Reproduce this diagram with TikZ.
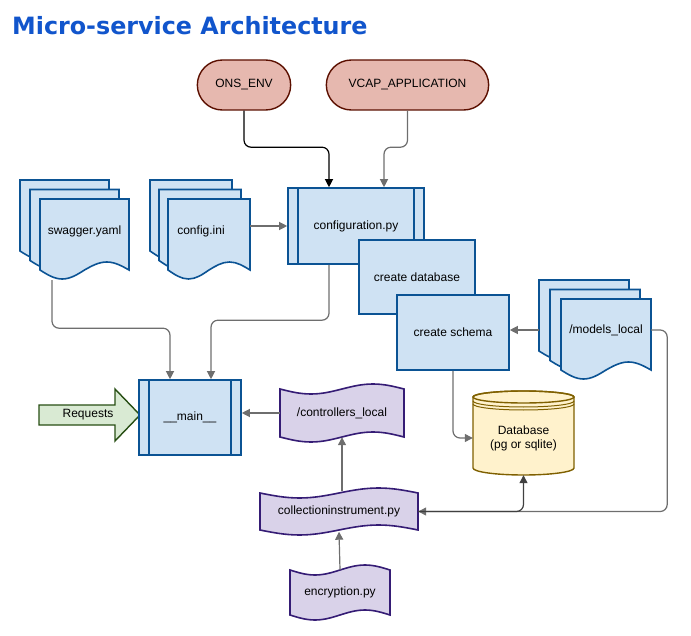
\documentclass[tikz,border=0pt]{standalone}
\usepackage{fontspec}
\setmainfont{Liberation Sans}
\newfontfamily\titlefont{DejaVu Sans}
\usetikzlibrary{arrows.meta,shapes.misc}

\definecolor{bluefill}{HTML}{CFE2F3}
\definecolor{bluedraw}{HTML}{0B5394}
\definecolor{pinkfill}{HTML}{E6B8AF}
\definecolor{pinkdraw}{HTML}{5B0F00}
\definecolor{lilacfill}{HTML}{D9D2E9}
\definecolor{lilacdraw}{HTML}{351C75}
\definecolor{greenfill}{HTML}{D9EAD3}
\definecolor{greendraw}{HTML}{274E13}
\definecolor{dbfill}{HTML}{FFF2CC}
\definecolor{dbdraw}{HTML}{7F6000}
\definecolor{titleblue}{HTML}{1155CC}
\definecolor{linkgray}{HTML}{6E6E6E}

% front sheet: x1, y1, x2, wave line, shift x, shift y
\newcommand{\multidoc}[6]{%
  \foreach \k in {2,1,0} {
    \pgfmathsetmacro{\xa}{#1-\k*#5}
    \pgfmathsetmacro{\xb}{#3-\k*#5}
    \pgfmathsetmacro{\ya}{#2-\k*#6}
    \pgfmathsetmacro{\yb}{#4-\k*#6}
    \pgfmathsetmacro{\xq}{\xa+(\xb-\xa)/4}
    \pgfmathsetmacro{\xm}{(\xa+\xb)/2}
    \pgfmathsetmacro{\xr}{\xb-(\xb-\xa)/4}
    \filldraw[sheet] (\xa,\yb) -- (\xa,\ya) -- (\xb,\ya) -- (\xb,\yb)
      sin (\xr,{\yb-8}) cos (\xm,\yb) sin (\xq,{\yb+9}) cos (\xa,\yb) -- cycle;
  }}
% x1, top, x2, bottom, wave height
\newcommand{\tapeshape}[5]{%
  \filldraw[tape] (#1,#2) sin ({#1+(#3-#1)/4},{#2+#5}) cos ({(#1+#3)/2},#2)
    sin ({#3-(#3-#1)/4},{#2-#5}) cos (#3,#2) -- (#3,#4)
    sin ({#3-(#3-#1)/4},{#4-#5}) cos ({(#1+#3)/2},#4)
    sin ({#1+(#3-#1)/4},{#4+#5}) cos (#1,#4) -- cycle;}

\begin{document}
\begin{tikzpicture}[x=1pt,y=-1pt,
    every node/.style={font=\fontsize{12}{14}\selectfont, align=center},
    box/.style={draw=bluedraw, fill=bluefill, line width=1.6pt},
    sheet/.style={draw=bluedraw, fill=bluefill, line width=1.6pt},
    tape/.style={draw=lilacdraw, fill=lilacfill, line width=1.6pt},
    pill/.style={rounded rectangle, draw=pinkdraw, fill=pinkfill, line width=1.4pt, minimum height=50pt},
    dbshape/.style={draw=dbdraw, fill=dbfill, line width=1.4pt},
    link/.style={draw=linkgray, line width=1.2pt, rounded corners=7pt, -{Triangle[length=8pt,width=8pt]}}]
  \useasboundingbox (0,0) rectangle (691,636);

  \node[anchor=west, inner sep=0pt, text=titleblue,
    font=\titlefont\bfseries\fontsize{23.8}{28}\selectfont] (title) at (12,26) {Micro-service Architecture};

  \node[pill, minimum width=100pt] (ons) at (244,85) {ONS\_ENV};
  \node[pill, minimum width=169pt] (vcap) at (407.5,85) {VCAP\_APPLICATION};

  \node[box, minimum width=136pt, minimum height=76pt] (conf) at (356,226) {configuration.py};
  \foreach \s/\d in {west/11,east/-11} {
    \draw[bluedraw, line width=1.6pt] ([xshift=\d pt]conf.north \s) -- ([xshift=\d pt]conf.south \s);
  }
  \node[box, minimum width=116pt, minimum height=74pt] (mkdb) at (417,277) {create database};
  \node[box, minimum width=112pt, minimum height=75pt] (schema) at (453,332.5) {create schema};

  \multidoc{40}{199}{129}{270}{10}{9.5}
  \node[minimum width=89pt, minimum height=98pt] (swag) at (84.5,231) {swagger.yaml};
  \multidoc{168}{199}{250}{270}{9}{9.5}
  \node[minimum width=82pt] (cfg) at (209,231) {\hspace*{-16pt}config.ini};
  \multidoc{561}{299}{651}{370}{11}{9.5}
  \node[minimum width=90pt] (models) at (606,330) {/models\_local};

  \tapeshape{280}{389}{404}{437}{5}
  \node[minimum width=124pt, minimum height=48pt] (ctrl) at (342,413) {/controllers\_local};
  \tapeshape{260}{493}{418}{530}{5}
  \node[minimum width=158pt, minimum height=40pt] (coll) at (339,511.5) {collectioninstrument.py};
  \tapeshape{290}{570}{390}{615}{5}
  \node[minimum width=100pt, minimum height=45pt] (enc) at (340,592.5) {encryption.py};

  \filldraw[dbshape] (473,397) -- (473,468) arc[start angle=180, end angle=360, x radius=50.5pt, y radius=7pt]
    -- (574,397) arc[start angle=0, end angle=180, x radius=50.5pt, y radius=6pt] -- cycle;
  \draw[dbshape, fill=none] (523.5,397) ellipse[x radius=50.5pt, y radius=6pt];
  \foreach \r in {401,404} {
    \draw[dbdraw, line width=1pt] (473,\r) arc[start angle=180, end angle=360, x radius=50.5pt, y radius=6pt];
  }
  \node[minimum width=101pt, minimum height=74pt] (db) at (523.5,438) {Database\\(pg or sqlite)};

  \filldraw[fill=greenfill, draw=greendraw, line width=1.4pt] (39,405) -- (115,405) -- (115,389)
    -- (140,415) -- (115,441) -- (115,425) -- (39,425) -- cycle;
  \node (req) at (88,415) {Requests};

  \node[box, minimum width=102pt, minimum height=75pt] (main) at (190,417.5) {\_\_main\_\_};
  \foreach \s/\d in {west/11,east/-11} {
    \draw[bluedraw, line width=1.6pt] ([xshift=\d pt]main.north \s) -- ([xshift=\d pt]main.south \s);
  }

  \draw[link, draw=black] (ons.south) |- ([xshift=-27pt,yshift=40pt]conf.north) -- ([xshift=-27pt]conf.north);
  \draw[link] (vcap.south) |- ([xshift=28pt,yshift=40pt]conf.north) -- ([xshift=28pt]conf.north);
  \draw[link] (cfg.east |- conf.west) -- (conf.west);
  \draw[link] ([xshift=-32.5pt]swag.south) |- ([xshift=-20pt,yshift=51pt]main.north) -- ([xshift=-20pt]main.north);
  \draw[link] ([xshift=-27pt]conf.south) |- ([xshift=21pt,yshift=59pt]main.north) -- ([xshift=21pt]main.north);
  \draw[link] ([xshift=-22pt]models.west) -- (schema.east |- models.west);
  \draw[link] (schema.south) |- (db.west);
  \draw[link] (models.east) -- ++(16,0) |- (coll.east);
  \draw[link, draw=black!75] (coll.east) -| (db.south);
  \draw[link] (ctrl.west) -- (ctrl.west -| main.east);
  \draw[link] (coll.north -| ctrl.south) -- (ctrl.south);
  \draw[link] (enc.north) -- (coll.south);
\end{tikzpicture}
\end{document}
